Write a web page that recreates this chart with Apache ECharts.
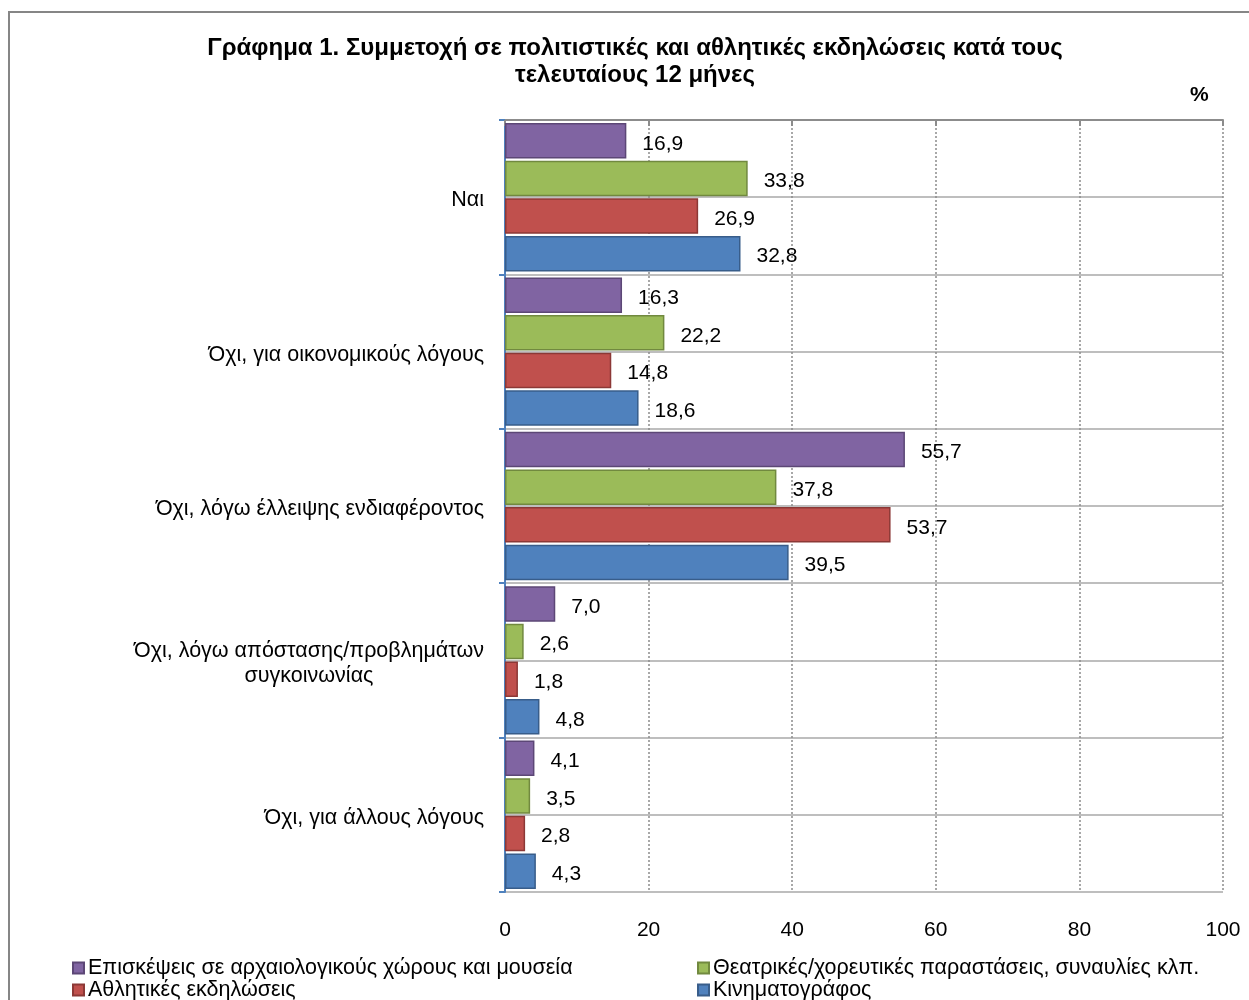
<!DOCTYPE html>
<html><head><meta charset="utf-8">
<script src="https://cdn.jsdelivr.net/npm/echarts@6/dist/echarts.min.js"></script>
<style>html,body{margin:0;padding:0;background:#fff}#c{width:1249px;height:1000px}</style>
</head><body><div id="c"></div>
<script>
const titleLines = ['Γράφημα 1. Συμμετοχή σε πολιτιστικές και αθλητικές εκδηλώσεις κατά τους', 'τελευταίους 12 μήνες'];
const unitLabel = '%';
const categories = ['Ναι', 'Όχι, για οικονομικούς λόγους', 'Όχι, λόγω έλλειψης ενδιαφέροντος', 'Όχι, λόγω απόστασης/προβλημάτων\nσυγκοινωνίας', 'Όχι, για άλλους λόγους'];
const seriesNames = ['Επισκέψεις σε αρχαιολογικούς χώρους και μουσεία', 'Θεατρικές/χορευτικές παραστάσεις, συναυλίες κλπ.', 'Αθλητικές εκδηλώσεις', 'Κινηματογράφος'];
const museums = [16.9, 16.3, 55.7, 7.0, 4.1];
const theatre = [33.8, 22.2, 37.8, 2.6, 3.5];
const sports = [26.9, 14.8, 53.7, 1.8, 2.8];
const cinema = [32.8, 18.6, 39.5, 4.8, 4.3];
const xTicks = [0, 20, 40, 60, 80, 100];

const colors = ['#8064A2', '#9BBB59', '#C0504D', '#4F81BD'];
const borders = ['#5C4776', '#71893F', '#8C3836', '#385D8A'];
const FONT = 'Liberation Sans, Arial, sans-serif';
const CAT_FS = 21.5;

const cv = document.createElement('canvas').getContext('2d');
cv.font = CAT_FS + 'px ' + FONT;
function tw(s){ return cv.measureText(s).width; }

function catFormatter(v){
  const lines = v.split('\n');
  if (lines.length === 1) return v;
  return lines.map(l => '{c|' + l + '}').join('\n');
}
const maxW = Math.ceil(Math.max(...categories[3].split('\n').map(tw)));

const chart = echarts.init(document.getElementById('c'));
const data = [museums, theatre, sports, cinema];
chart.setOption({
  animation: false,
  textStyle: { fontFamily: FONT },
  title: {
    text: titleLines.join('\n'), left: 635, top: 35, textAlign: 'center', padding: 0,
    textStyle: { fontSize: 24, fontWeight: 'bold', color: '#000', lineHeight: 27, fontFamily: FONT }
  },
  graphic: [
    { type: 'rect', shape: { x: 9, y: 12, width: 1400, height: 1200 }, style: { fill: 'none', stroke: '#868686', lineWidth: 2 }, silent: true },
    { type: 'text', left: 1190, top: 85, style: { text: unitLabel, font: 'bold 21px ' + FONT, fill: '#000' } }
  ],
  legend: seriesNames.map((n, i) => ({
    data: [n], left: i % 2 === 0 ? 72 : 697, top: i < 2 ? 957 : 979,
    itemWidth: 11, itemHeight: 11, itemGap: 0, padding: 0,
    icon: 'rect',
    textStyle: { fontSize: CAT_FS, color: '#000', fontFamily: FONT, padding: [0, 0, 0, -1] },
    selectedMode: false
  })),
  grid: { left: 505, right: 26, top: 120, bottom: 108, containLabel: false },
  xAxis: {
    type: 'value', min: 0, max: 100, interval: 20,
    axisLine: { show: true, lineStyle: { color: '#8C8C8C', width: 2 } },
    axisTick: { show: true, length: 6, lineStyle: { color: '#8C8C8C', width: 2 } },
    axisLabel: { fontSize: 21, color: '#000', margin: 28, fontFamily: FONT },
    splitLine: { show: true, lineStyle: { color: '#8C8C8C', type: [2, 2], width: 1.5 } }
  },
  yAxis: [{
    type: 'category', data: categories, inverse: true,
    axisLine: { show: true, lineStyle: { color: '#4F81BD', width: 2 } },
    axisTick: { show: true, length: 6, lineStyle: { color: '#4F81BD', width: 2 } },
    axisLabel: {
      fontSize: CAT_FS, color: '#000', margin: 21, fontFamily: FONT, lineHeight: 25,
      padding: [6, 0, 0, 0],
      formatter: catFormatter,
      rich: { c: { width: maxW, align: 'center', fontSize: CAT_FS, color: '#000', fontFamily: FONT, lineHeight: 25 } }
    },
    splitLine: { show: false }
  }, {
    type: 'value', min: 0, max: 10, interval: 1, inverse: true,
    position: 'right',
    axisLine: { show: false }, axisTick: { show: false }, axisLabel: { show: false },
    splitLine: { show: true, lineStyle: { color: '#BEBEBE', width: 2 } }
  }],
  series: data.map((d, i) => ({
    name: seriesNames[i], type: 'bar', data: d, yAxisIndex: 0,
    barWidth: 35.5, barGap: '6%', barCategoryGap: '4%',
    itemStyle: { color: colors[i], borderColor: borders[i], borderWidth: 1.5 },
    label: {
      show: true, position: 'right', distance: 16, offset: [0, 3], fontSize: 21, color: '#000', fontFamily: FONT,
      formatter: p => p.value.toFixed(1).replace('.', ',')
    }
  }))
});
</script></body></html>
